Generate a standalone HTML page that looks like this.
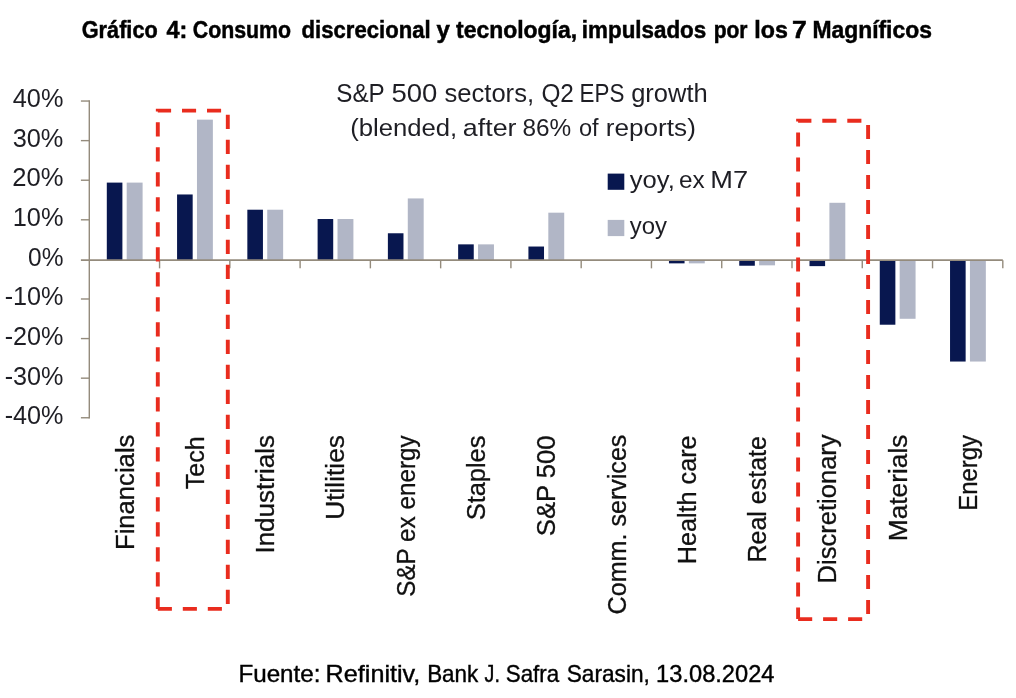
<!DOCTYPE html>
<html lang="es"><head><meta charset="utf-8"><title>Gráfico 4</title>
<style>
html,body{margin:0;padding:0;background:#fff;}
body{width:1016px;height:698px;overflow:hidden;font-family:"Liberation Sans",sans-serif;}
svg{display:block}
text{font-family:"Liberation Sans",sans-serif;}
</style></head><body>
<svg width="1016" height="698" viewBox="0 0 1016 698">
<rect width="1016" height="698" fill="#ffffff"/>

<rect x="106.80" y="182.60" width="15.6" height="77.55" fill="#08174f"/>
<rect x="126.70" y="182.60" width="15.9" height="77.55" fill="#b1b6c6"/>
<rect x="177.07" y="194.47" width="15.6" height="65.68" fill="#08174f"/>
<rect x="196.97" y="119.65" width="15.9" height="140.50" fill="#b1b6c6"/>
<rect x="247.34" y="209.71" width="15.6" height="50.44" fill="#08174f"/>
<rect x="267.24" y="209.71" width="15.9" height="50.44" fill="#b1b6c6"/>
<rect x="317.61" y="219.02" width="15.6" height="41.13" fill="#08174f"/>
<rect x="337.51" y="219.02" width="15.9" height="41.13" fill="#b1b6c6"/>
<rect x="387.88" y="233.27" width="15.6" height="26.88" fill="#08174f"/>
<rect x="407.78" y="198.43" width="15.9" height="61.72" fill="#b1b6c6"/>
<rect x="458.15" y="244.36" width="15.6" height="15.79" fill="#08174f"/>
<rect x="478.05" y="244.36" width="15.9" height="15.79" fill="#b1b6c6"/>
<rect x="528.42" y="246.53" width="15.6" height="13.62" fill="#08174f"/>
<rect x="548.32" y="212.68" width="15.9" height="47.47" fill="#b1b6c6"/>
<rect x="668.96" y="260.15" width="15.6" height="3.21" fill="#08174f"/>
<rect x="688.86" y="260.15" width="15.9" height="3.21" fill="#b1b6c6"/>
<rect x="739.23" y="260.15" width="15.6" height="5.58" fill="#08174f"/>
<rect x="759.13" y="260.15" width="15.9" height="5.19" fill="#b1b6c6"/>
<rect x="809.50" y="260.15" width="15.6" height="5.98" fill="#08174f"/>
<rect x="829.40" y="202.79" width="15.9" height="57.36" fill="#b1b6c6"/>
<rect x="879.77" y="260.15" width="15.6" height="64.57" fill="#08174f"/>
<rect x="899.67" y="260.15" width="15.9" height="58.63" fill="#b1b6c6"/>
<rect x="950.04" y="260.15" width="15.6" height="101.39" fill="#08174f"/>
<rect x="969.94" y="260.15" width="15.9" height="101.39" fill="#b1b6c6"/>
<g stroke="#948b7c" stroke-width="1.4" fill="none">
<line x1="89.3" y1="100.34" x2="89.3" y2="418.46"/>
<line x1="80.89999999999999" y1="417.76" x2="89.3" y2="417.76"/>
<line x1="80.89999999999999" y1="378.17" x2="89.3" y2="378.17"/>
<line x1="80.89999999999999" y1="338.58" x2="89.3" y2="338.58"/>
<line x1="80.89999999999999" y1="298.99" x2="89.3" y2="298.99"/>
<line x1="80.89999999999999" y1="219.81" x2="89.3" y2="219.81"/>
<line x1="80.89999999999999" y1="180.22" x2="89.3" y2="180.22"/>
<line x1="80.89999999999999" y1="140.63" x2="89.3" y2="140.63"/>
<line x1="80.89999999999999" y1="101.04" x2="89.3" y2="101.04"/>
<line x1="80.89999999999999" y1="260.15" x2="1002.81" y2="260.15" stroke-width="1.8"/>
<line x1="159.57" y1="260.15" x2="159.57" y2="268.34999999999997"/>
<line x1="229.84" y1="260.15" x2="229.84" y2="268.34999999999997"/>
<line x1="300.11" y1="260.15" x2="300.11" y2="268.34999999999997"/>
<line x1="370.38" y1="260.15" x2="370.38" y2="268.34999999999997"/>
<line x1="440.65" y1="260.15" x2="440.65" y2="268.34999999999997"/>
<line x1="510.92" y1="260.15" x2="510.92" y2="268.34999999999997"/>
<line x1="581.19" y1="260.15" x2="581.19" y2="268.34999999999997"/>
<line x1="651.46" y1="260.15" x2="651.46" y2="268.34999999999997"/>
<line x1="721.73" y1="260.15" x2="721.73" y2="268.34999999999997"/>
<line x1="792.00" y1="260.15" x2="792.00" y2="268.34999999999997"/>
<line x1="862.27" y1="260.15" x2="862.27" y2="268.34999999999997"/>
<line x1="932.54" y1="260.15" x2="932.54" y2="268.34999999999997"/>
<line x1="1002.81" y1="260.15" x2="1002.81" y2="268.34999999999997"/>
</g>
<text x="4.65" y="424.26" font-size="25.4" fill="#1e1e24" textLength="58.80" lengthAdjust="spacingAndGlyphs">-40%</text>
<text x="4.65" y="384.59" font-size="25.4" fill="#1e1e24" textLength="58.80" lengthAdjust="spacingAndGlyphs">-30%</text>
<text x="4.65" y="344.93" font-size="25.4" fill="#1e1e24" textLength="58.80" lengthAdjust="spacingAndGlyphs">-20%</text>
<text x="4.65" y="305.26" font-size="25.4" fill="#1e1e24" textLength="58.80" lengthAdjust="spacingAndGlyphs">-10%</text>
<text x="28.05" y="265.60" font-size="25.4" fill="#1e1e24" textLength="35.40" lengthAdjust="spacingAndGlyphs">0%</text>
<text x="12.70" y="225.93" font-size="25.4" fill="#1e1e24" textLength="50.75" lengthAdjust="spacingAndGlyphs">10%</text>
<text x="12.25" y="186.27" font-size="25.4" fill="#1e1e24" textLength="51.25" lengthAdjust="spacingAndGlyphs">20%</text>
<text x="12.65" y="146.60" font-size="25.4" fill="#1e1e24" textLength="50.75" lengthAdjust="spacingAndGlyphs">30%</text>
<text x="12.80" y="106.94" font-size="25.4" fill="#1e1e24" textLength="50.65" lengthAdjust="spacingAndGlyphs">40%</text>
<rect x="607.7" y="173.6" width="16.6" height="16.2" fill="#08174f"/>
<rect x="607.7" y="219.9" width="16.6" height="16.2" fill="#b1b6c6"/>
<text transform="translate(133.63,550.0) rotate(-90)" font-size="25" fill="#111" stroke="#111" stroke-width="0.3" textLength="115.4" lengthAdjust="spacingAndGlyphs">Financials</text>
<text transform="translate(203.90,489.2) rotate(-90)" font-size="25" fill="#111" stroke="#111" stroke-width="0.3" textLength="53.0" lengthAdjust="spacingAndGlyphs">Tech</text>
<text transform="translate(274.17,553.6) rotate(-90)" font-size="25" fill="#111" stroke="#111" stroke-width="0.3" textLength="118.6" lengthAdjust="spacingAndGlyphs">Industrials</text>
<text transform="translate(344.44,519.8) rotate(-90)" font-size="25" fill="#111" stroke="#111" stroke-width="0.3" textLength="84.8" lengthAdjust="spacingAndGlyphs">Utilities</text>
<text transform="translate(414.71,596.8) rotate(-90)" font-size="25" fill="#111" stroke="#111" stroke-width="0.3" textLength="161.4" lengthAdjust="spacingAndGlyphs">S&amp;P ex energy</text>
<text transform="translate(484.98,520.2) rotate(-90)" font-size="25" fill="#111" stroke="#111" stroke-width="0.3" textLength="84.6" lengthAdjust="spacingAndGlyphs">Staples</text>
<text transform="translate(555.26,536.2) rotate(-90)" font-size="25" fill="#111" stroke="#111" stroke-width="0.3" textLength="100.8" lengthAdjust="spacingAndGlyphs">S&amp;P 500</text>
<text transform="translate(625.52,614.4) rotate(-90)" font-size="25" fill="#111" stroke="#111" stroke-width="0.3" textLength="179.8" lengthAdjust="spacingAndGlyphs">Comm. services</text>
<text transform="translate(695.79,564.2) rotate(-90)" font-size="25" fill="#111" stroke="#111" stroke-width="0.3" textLength="128.8" lengthAdjust="spacingAndGlyphs">Health care</text>
<text transform="translate(766.06,562.6) rotate(-90)" font-size="25" fill="#111" stroke="#111" stroke-width="0.3" textLength="126.6" lengthAdjust="spacingAndGlyphs">Real estate</text>
<text transform="translate(836.33,583.4) rotate(-90)" font-size="25" fill="#111" stroke="#111" stroke-width="0.3" textLength="149.0" lengthAdjust="spacingAndGlyphs">Discretionary</text>
<text transform="translate(906.60,541.2) rotate(-90)" font-size="25" fill="#111" stroke="#111" stroke-width="0.3" textLength="106.6" lengthAdjust="spacingAndGlyphs">Materials</text>
<text transform="translate(976.88,510.8) rotate(-90)" font-size="25" fill="#111" stroke="#111" stroke-width="0.3" textLength="75.8" lengthAdjust="spacingAndGlyphs">Energy</text>
<text x="81.75" y="38.0" font-size="24.6" font-weight="700" fill="#000" stroke="#000" stroke-width="0.5" textLength="75.95" lengthAdjust="spacingAndGlyphs">Gráfico</text>
<text x="166.45" y="38.0" font-size="24.6" font-weight="700" fill="#000" stroke="#000" stroke-width="0.5" textLength="20.90" lengthAdjust="spacingAndGlyphs">4:</text>
<text x="192.75" y="38.0" font-size="24.6" font-weight="700" fill="#000" stroke="#000" stroke-width="0.5" textLength="98.25" lengthAdjust="spacingAndGlyphs">Consumo</text>
<text x="301.60" y="38.0" font-size="24.6" font-weight="700" fill="#000" stroke="#000" stroke-width="0.5" textLength="129.00" lengthAdjust="spacingAndGlyphs">discrecional</text>
<text x="436.40" y="38.0" font-size="24.6" font-weight="700" fill="#000" stroke="#000" stroke-width="0.5" textLength="13.40" lengthAdjust="spacingAndGlyphs">y</text>
<text x="456.00" y="38.0" font-size="24.6" font-weight="700" fill="#000" stroke="#000" stroke-width="0.5" textLength="121.10" lengthAdjust="spacingAndGlyphs">tecnología,</text>
<text x="581.85" y="38.0" font-size="24.6" font-weight="700" fill="#000" stroke="#000" stroke-width="0.5" textLength="124.35" lengthAdjust="spacingAndGlyphs">impulsados</text>
<text x="713.65" y="38.0" font-size="24.6" font-weight="700" fill="#000" stroke="#000" stroke-width="0.5" textLength="33.90" lengthAdjust="spacingAndGlyphs">por</text>
<text x="754.35" y="38.0" font-size="24.6" font-weight="700" fill="#000" stroke="#000" stroke-width="0.5" textLength="33.55" lengthAdjust="spacingAndGlyphs">los</text>
<text x="792.10" y="38.0" font-size="24.6" font-weight="700" fill="#000" stroke="#000" stroke-width="0.5" textLength="14.80" lengthAdjust="spacingAndGlyphs">7</text>
<text x="812.40" y="38.0" font-size="24.6" font-weight="700" fill="#000" stroke="#000" stroke-width="0.5" textLength="119.50" lengthAdjust="spacingAndGlyphs">Magníficos</text>
<text x="238.40" y="681.6" font-size="24.0" fill="#000" stroke="#000" stroke-width="0.4" textLength="82.05" lengthAdjust="spacingAndGlyphs">Fuente:</text>
<text x="325.60" y="681.6" font-size="24.0" fill="#000" stroke="#000" stroke-width="0.4" textLength="94.70" lengthAdjust="spacingAndGlyphs">Refinitiv,</text>
<text x="427.15" y="681.6" font-size="24.0" fill="#000" stroke="#000" stroke-width="0.4" textLength="51.10" lengthAdjust="spacingAndGlyphs">Bank</text>
<text x="484.60" y="681.6" font-size="24.0" fill="#000" stroke="#000" stroke-width="0.4" textLength="15.30" lengthAdjust="spacingAndGlyphs">J.</text>
<text x="505.75" y="681.6" font-size="24.0" fill="#000" stroke="#000" stroke-width="0.4" textLength="53.40" lengthAdjust="spacingAndGlyphs">Safra</text>
<text x="566.75" y="681.6" font-size="24.0" fill="#000" stroke="#000" stroke-width="0.4" textLength="83.05" lengthAdjust="spacingAndGlyphs">Sarasin,</text>
<text x="656.10" y="681.6" font-size="24.0" fill="#000" stroke="#000" stroke-width="0.4" textLength="118.40" lengthAdjust="spacingAndGlyphs">13.08.2024</text>
<text x="336.25" y="101.6" font-size="25" fill="#1e1e24" textLength="48.50" lengthAdjust="spacingAndGlyphs">S&amp;P</text>
<text x="391.45" y="101.6" font-size="25" fill="#1e1e24" textLength="45.90" lengthAdjust="spacingAndGlyphs">500</text>
<text x="444.40" y="101.6" font-size="25" fill="#1e1e24" textLength="89.70" lengthAdjust="spacingAndGlyphs">sectors,</text>
<text x="541.40" y="101.6" font-size="25" fill="#1e1e24" textLength="32.55" lengthAdjust="spacingAndGlyphs">Q2</text>
<text x="579.55" y="101.6" font-size="25" fill="#1e1e24" textLength="44.80" lengthAdjust="spacingAndGlyphs">EPS</text>
<text x="631.15" y="101.6" font-size="25" fill="#1e1e24" textLength="76.60" lengthAdjust="spacingAndGlyphs">growth</text>
<text x="350.15" y="135.8" font-size="24.4" fill="#1e1e24" textLength="107.10" lengthAdjust="spacingAndGlyphs">(blended,</text>
<text x="462.80" y="135.8" font-size="24.4" fill="#1e1e24" textLength="53.70" lengthAdjust="spacingAndGlyphs">after</text>
<text x="522.40" y="135.8" font-size="24.4" fill="#1e1e24" textLength="48.80" lengthAdjust="spacingAndGlyphs">86%</text>
<text x="579.00" y="135.8" font-size="24.4" fill="#1e1e24" textLength="19.65" lengthAdjust="spacingAndGlyphs">of</text>
<text x="605.80" y="135.8" font-size="24.4" fill="#1e1e24" textLength="90.05" lengthAdjust="spacingAndGlyphs">reports)</text>
<text x="629.80" y="187.6" font-size="24.6" fill="#1e1e24" textLength="45.00" lengthAdjust="spacingAndGlyphs">yoy,</text>
<text x="678.95" y="187.6" font-size="24.6" fill="#1e1e24" textLength="25.70" lengthAdjust="spacingAndGlyphs">ex</text>
<text x="710.30" y="187.6" font-size="24.6" fill="#1e1e24" textLength="37.85" lengthAdjust="spacingAndGlyphs">M7</text>
<text x="629.80" y="233.9" font-size="24.6" fill="#1e1e24" textLength="37.25" lengthAdjust="spacingAndGlyphs">yoy</text>
<path d="M157.8,608.9 H227.8 V110.6 H157.8 V608.9" fill="none" stroke="#e92c1e" stroke-width="3.9" stroke-dasharray="14.1 10.9"/>
<path d="M798.1,619.1 H868.1 V120.8 H798.1 V619.1" fill="none" stroke="#e92c1e" stroke-width="3.9" stroke-dasharray="14.1 10.9"/>
</svg></body></html>
